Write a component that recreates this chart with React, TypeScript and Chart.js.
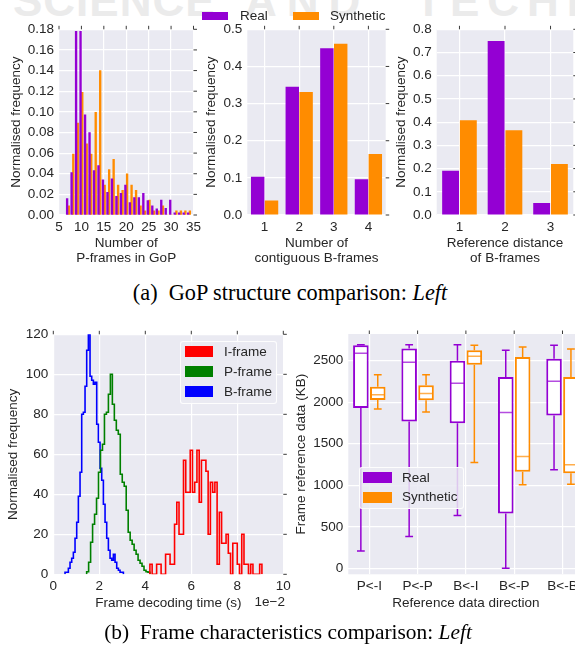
import React, { useEffect, useRef } from 'react';
import { Chart, registerables } from 'chart.js';

Chart.register(...registerables);

const SANS = "'Liberation Sans', Arial, Helvetica, sans-serif";
const SERIF = "'Liberation Serif', 'Times New Roman', Times, serif";
const INK = '#262626';
const PANEL_BG = '#EAEAF2';
const GRID = '#FFFFFF';
const REAL_COLOR = '#9400D3';
const SYN_COLOR = '#FF8C00';
const I_COLOR = '#FF0000';
const P_COLOR = '#008000';
const B_COLOR = '#0000FF';
const FS = 13.5;

// ---------- (a) left: number of P-frames in GoP ----------
const gopPFrames = [7, 8, 9, 10, 11, 12, 13, 14, 15, 16, 17, 18, 19, 20, 21, 22, 23, 24, 25, 26, 27, 28, 29, 30, 31, 32, 33, 34];
const gopReal = [0.016, 0.041, 0.178, 0.178, 0.097, 0.08, 0.043, 0.048, 0.034, 0.022, 0.035, 0.018, 0.021, 0.029, 0.012, 0.017, 0.017, 0.021, 0.014, 0.009, 0.006, 0.0145, 0.0065, 0.0145, 0.002, 0.002, 0.002, 0.002];
const gopSynthetic = [0.009, 0.059, 0.089, 0.119, 0.069, 0.059, 0.0995, 0.14, 0.029, 0.044, 0.054, 0.029, 0.024, 0.04, 0.029, 0.024, 0.009, 0.004, 0.0145, 0.004, 0.004, 0.009, 0, 0, 0.004, 0.004, 0.004, 0.004];
const gopXTicks = [5, 10, 15, 20, 25, 30, 35];
const gopYTicks = [0, 0.02, 0.04, 0.06, 0.08, 0.1, 0.12, 0.14, 0.16, 0.18];

// ---------- (a) middle: contiguous B-frames ----------
const contiguousB = ['1', '2', '3', '4'];
const contiguousReal = [0.103, 0.345, 0.449, 0.096];
const contiguousSynthetic = [0.039, 0.331, 0.461, 0.164];
const contiguousYTicks = [0, 0.1, 0.2, 0.3, 0.4, 0.5];

// ---------- (a) right: reference distance of B-frames ----------
const refDistance = ['1', '2', '3'];
const refDistReal = [0.191, 0.75, 0.052];
const refDistSynthetic = [0.408, 0.365, 0.22];
const refDistYTicks = [0, 0.1, 0.2, 0.3, 0.4, 0.5, 0.6, 0.7, 0.8];

// ---------- (b) left: frame decoding time histograms (x in 1e-2 s) ----------
const iFrameBinStart = 4.2;
const iFrameBinWidth = 0.0974;
const iFrameHist = [5, 0, 0, 5, 5, 0, 0, 10, 10, 5, 5, 25, 36, 20, 20, 57, 41, 41, 62, 41, 46, 62, 36, 57, 57, 51.5, 20, 46, 41, 46, 5, 31, 15.5, 15.5, 20, 10.5, 0, 15.5, 15.5, 5, 0, 20, 5, 5, 0, 5, 0, 0, 0, 5];
const pFrameBinStart = 1.45;
const pFrameBinWidth = 0.086;
const pFrameHist = [1.3, 6, 16, 25, 30, 38, 51, 62, 65, 80, 81, 90, 100, 85, 77, 72, 70, 50, 46, 44, 32, 21, 17, 15, 12, 10, 7, 5.5, 4, 2, 1.3, 1];
const bFrameBinStart = 0.51;
const bFrameBinWidth = 0.0725;
const bFrameHist = [1, 1, 3, 6, 8, 11, 18, 26, 39, 51, 80, 81, 94, 112, 120, 99, 97, 95, 96, 75, 66, 53, 47, 35, 26, 18, 12, 8, 7, 10, 6, 3, 2, 1, 1];
const decodeXTicks = [0, 2, 4, 6, 8, 10];
const decodeYTicks = [0, 20, 40, 60, 80, 100, 120];

// ---------- (b) right: frame reference data box plots ----------
const directions = ['P<-I', 'P<-P', 'B<-I', 'B<-P', 'B<-B'];
const directionPos = [0, 1, 2, 3, 4];
// [lower whisker, Q1, median, Q3, upper whisker] in KB
const realBox = [
  [209, 1929, 2588, 2685, 2693],
  [382, 1768, 2480, 2645, 2693],
  [635, 1748, 2227, 2500, 2693],
  [0, 659, 1877, 2303, 2625],
  [1186, 1841, 2251, 2524, 2685],
];
const syntheticBox = [
  [1917, 2026, 2090, 2187, 2331],
  [1881, 2022, 2106, 2203, 2331],
  [1274, 2452, 2552, 2625, 2685],
  [1005, 1162, 1346, 2544, 2665],
  [1013, 1146, 1246, 2303, 2641],
];
const refYTicks = [0, 500, 1000, 1500, 2000, 2500];

// ---------- helpers ----------
function stepPoints(start: number, width: number, counts: number[]) {
  const pts = [{ x: start, y: 0 }];
  counts.forEach((c, i) => pts.push({ x: start + i * width, y: c }));
  pts.push({ x: start + counts.length * width, y: 0 });
  return pts;
}

const tickFont = { family: SANS, size: FS };
const titleFont = { family: SANS, size: FS, lineHeight: 1.1 };

const bgPlugin = {
  id: 'panelBg',
  beforeDraw(chart: any) {
    const { ctx, chartArea: a } = chart;
    ctx.save();
    ctx.fillStyle = PANEL_BG;
    ctx.fillRect(a.left, a.top, a.right - a.left, a.bottom - a.top);
    ctx.restore();
  },
};

const outerTicksPlugin = {
  id: 'outerTicks',
  afterDraw(chart: any) {
    const { ctx, chartArea: a, scales } = chart;
    ctx.save();
    ctx.strokeStyle = '#3a3a3a';
    ctx.lineWidth = 1;
    ctx.beginPath();
    scales.y.ticks.forEach((t: any) => {
      const py = scales.y.getPixelForValue(t.value);
      ctx.moveTo(a.right, py);
      ctx.lineTo(a.right + 3.5, py);
    });
    scales.x.ticks.forEach((_t: any, i: number) => {
      const px = scales.x.getPixelForTick(i);
      ctx.moveTo(px, a.top);
      ctx.lineTo(px, a.top - 3.5);
    });
    ctx.stroke();
    ctx.restore();
  },
};

const boxWhiskerPlugin = {
  id: 'boxWhisker',
  afterDatasetsDraw(chart: any) {
    const { ctx, chartArea: a, scales } = chart;
    const y = scales.y;
    ctx.save();
    ctx.beginPath();
    ctx.rect(a.left, a.top, a.right - a.left, a.bottom - a.top);
    ctx.clip();
    chart.data.datasets.forEach((ds: any, d: number) => {
      const stats = d === 0 ? realBox : syntheticBox;
      const meta = chart.getDatasetMeta(d);
      meta.data.forEach((bar: any, i: number) => {
        const [lo, q1, med, q3, hi] = stats[i];
        const x = bar.x;
        const w = bar.width;
        const cap = w * 0.5;
        ctx.strokeStyle = ds.borderColor;
        ctx.lineWidth = 1.5;
        ctx.beginPath();
        ctx.moveTo(x, y.getPixelForValue(q3));
        ctx.lineTo(x, y.getPixelForValue(hi));
        ctx.moveTo(x, y.getPixelForValue(q1));
        ctx.lineTo(x, y.getPixelForValue(lo));
        ctx.moveTo(x - cap / 2, y.getPixelForValue(hi));
        ctx.lineTo(x + cap / 2, y.getPixelForValue(hi));
        ctx.moveTo(x - cap / 2, y.getPixelForValue(lo));
        ctx.lineTo(x + cap / 2, y.getPixelForValue(lo));
        ctx.stroke();
        ctx.globalAlpha = 0.7;
        ctx.beginPath();
        const ym = y.getPixelForValue(med);
        ctx.moveTo(x - w / 2 + 1, ym);
        ctx.lineTo(x + w / 2 - 1, ym);
        ctx.stroke();
        ctx.globalAlpha = 1;
      });
    });
    ctx.restore();
  },
};

function yAxis(o: { min: number; max: number; ticks: number[]; fmt: (v: number) => string; width: number; title: string; titlePad: number }) {
  return {
    type: 'linear',
    min: o.min,
    max: o.max,
    afterFit: (s: any) => { s.width = o.width; },
    afterBuildTicks: (s: any) => { s.ticks = o.ticks.map((v) => ({ value: v })); },
    grid: { color: GRID, lineWidth: 1.2, drawTicks: false },
    border: { display: false },
    ticks: { color: INK, font: tickFont, padding: 5, callback: (v: any) => o.fmt(Number(v)) },
    title: { display: true, text: o.title, color: INK, font: titleFont, padding: { top: o.titlePad, bottom: 0 } },
  };
}

function xAxis(o: any) {
  const common: any = {
    afterFit: (s: any) => { s.height = o.height; },
    border: { display: false },
    title: { display: true, text: o.title, color: INK, font: titleFont, padding: { top: 0, bottom: o.titlePad } },
  };
  if (o.type === 'category') {
    return {
      ...common,
      type: 'category',
      offset: true,
      grid: { color: GRID, lineWidth: 1.2, drawTicks: false, offset: false },
      ticks: { color: INK, font: tickFont, padding: 4, autoSkip: false, maxRotation: 0 },
    };
  }
  return {
    ...common,
    type: 'linear',
    min: o.min,
    max: o.max,
    offset: false,
    afterBuildTicks: (s: any) => { s.ticks = o.ticks.map((v: number) => ({ value: v })); },
    grid: { color: GRID, lineWidth: 1.2, drawTicks: false, offset: false },
    ticks: { color: INK, font: tickFont, padding: 4, autoSkip: false, maxRotation: 0, callback: (v: any) => o.fmt(Number(v)) },
  };
}

function baseOptions(padTop: number, padRight: number, x: any, y: any) {
  return {
    responsive: false,
    animation: false,
    events: [],
    layout: { padding: { left: 0, top: padTop, right: padRight, bottom: 0 } },
    plugins: { legend: { display: false }, tooltip: { enabled: false } },
    scales: { x, y },
  };
}

const gopConfig = () => ({
  type: 'bar',
  data: {
    datasets: [
      { label: 'Real', data: gopPFrames.map((n, i) => ({ x: n, y: gopReal[i] })), backgroundColor: REAL_COLOR, barThickness: 1.7, borderWidth: 0 },
      { label: 'Synthetic', data: gopPFrames.map((n, i) => ({ x: n, y: gopSynthetic[i] })), backgroundColor: SYN_COLOR, barThickness: 1.7, borderWidth: 0 },
    ],
  },
  options: baseOptions(29.3, 8,
    xAxis({ type: 'linear', min: 5, max: 35, ticks: gopXTicks, fmt: (v: number) => String(v), height: 55, title: ['Number of', 'P-frames in GoP'], titlePad: 4 }),
    yAxis({ min: 0, max: 0.18, ticks: gopYTicks, fmt: (v) => v.toFixed(2), width: 59, title: 'Normalised frequency', titlePad: 9 })),
  plugins: [bgPlugin, outerTicksPlugin],
});

const contiguousConfig = () => ({
  type: 'bar',
  data: {
    labels: contiguousB,
    datasets: [
      { label: 'Real', data: contiguousReal, backgroundColor: REAL_COLOR, categoryPercentage: 0.8, barPercentage: 0.97, borderWidth: 0 },
      { label: 'Synthetic', data: contiguousSynthetic, backgroundColor: SYN_COLOR, categoryPercentage: 0.8, barPercentage: 0.97, borderWidth: 0 },
    ],
  },
  options: baseOptions(29.3, 4.3,
    xAxis({ type: 'category', height: 55, title: ['Number of', 'contiguous B-frames'], titlePad: 4 }),
    yAxis({ min: 0, max: 0.5, ticks: contiguousYTicks, fmt: (v) => v.toFixed(1), width: 52.3, title: 'Normalised frequency', titlePad: 9 })),
  plugins: [bgPlugin, outerTicksPlugin],
});

const refDistConfig = () => ({
  type: 'bar',
  data: {
    labels: refDistance,
    datasets: [
      { label: 'Real', data: refDistReal, backgroundColor: REAL_COLOR, categoryPercentage: 0.78, barPercentage: 0.95, borderWidth: 0 },
      { label: 'Synthetic', data: refDistSynthetic, backgroundColor: SYN_COLOR, categoryPercentage: 0.78, barPercentage: 0.95, borderWidth: 0 },
    ],
  },
  options: baseOptions(29.3, 1.7,
    xAxis({ type: 'category', height: 55, title: ['Reference distance', 'of B-frames'], titlePad: 4 }),
    yAxis({ min: 0, max: 0.8, ticks: refDistYTicks, fmt: (v) => v.toFixed(1), width: 51.7, title: 'Normalised frequency', titlePad: 9 })),
  plugins: [bgPlugin, outerTicksPlugin],
});

const decodeConfig = () => ({
  type: 'line',
  data: {
    datasets: [
      { label: 'I-frame', data: stepPoints(iFrameBinStart, iFrameBinWidth, iFrameHist), borderColor: I_COLOR, borderWidth: 1.6, stepped: true, pointRadius: 0, fill: false },
      { label: 'P-frame', data: stepPoints(pFrameBinStart, pFrameBinWidth, pFrameHist), borderColor: P_COLOR, borderWidth: 1.6, stepped: true, pointRadius: 0, fill: false },
      { label: 'B-frame', data: stepPoints(bFrameBinStart, bFrameBinWidth, bFrameHist), borderColor: B_COLOR, borderWidth: 1.6, stepped: true, pointRadius: 0, fill: false },
    ],
  },
  options: baseOptions(14.3, 16.7,
    xAxis({ type: 'linear', min: 0, max: 10, ticks: decodeXTicks, fmt: (v: number) => String(v), height: 40.7, title: 'Frame decoding time (s)', titlePad: 4 }),
    yAxis({ min: 0, max: 120, ticks: decodeYTicks, fmt: (v) => String(v), width: 53.3, title: 'Normalised frequency', titlePad: 6 })),
  plugins: [bgPlugin, outerTicksPlugin],
});

const refDataConfig = () => ({
  type: 'bar',
  data: {
    datasets: [
      { label: 'Real', data: directionPos.map((p, i) => ({ x: p, y: [realBox[i][1], realBox[i][3]] })), backgroundColor: '#FFFFFF', borderColor: REAL_COLOR, borderWidth: 2, borderSkipped: false, categoryPercentage: 0.7, barPercentage: 0.92 },
      { label: 'Synthetic', data: directionPos.map((p, i) => ({ x: p, y: [syntheticBox[i][1], syntheticBox[i][3]] })), backgroundColor: '#FFFFFF', borderColor: SYN_COLOR, borderWidth: 2, borderSkipped: false, categoryPercentage: 0.7, barPercentage: 0.92 },
    ],
  },
  options: baseOptions(14, 6.5,
    xAxis({ type: 'linear', min: -0.435, max: 4.435, ticks: directionPos, fmt: (v: number) => directions[v] ?? '', height: 40.7, title: 'Reference data direction', titlePad: 4 }),
    yAxis({ min: -72, max: 2821, ticks: refYTicks, fmt: (v) => String(v), width: 63.3, title: 'Frame reference data (KB)', titlePad: 9 })),
  plugins: [bgPlugin, outerTicksPlugin, boxWhiskerPlugin],
});

function ChartPanel({ left, top, width, height, make }: { left: number; top: number; width: number; height: number; make: () => any }) {
  const ref = useRef<HTMLCanvasElement | null>(null);
  useEffect(() => {
    if (!ref.current) return;
    const chart = new Chart(ref.current, make());
    return () => chart.destroy();
  }, []);
  return (
    <canvas
      ref={ref}
      width={width}
      height={height}
      style={{ position: 'absolute', left, top, width, height }}
    />
  );
}

function Text({ x, y, children, size = FS, family = SANS, color = INK, align = 'left', style = {} }: any) {
  const lh = size * 1.2;
  const tx = align === 'left' ? '0' : align === 'right' ? '-100%' : '-50%';
  return (
    <div
      style={{
        position: 'absolute',
        left: x,
        top: y - lh / 2,
        fontFamily: family,
        fontSize: size,
        lineHeight: `${lh}px`,
        color,
        whiteSpace: 'nowrap',
        transform: `translateX(${tx})`,
        ...style,
      }}
    >
      {children}
    </div>
  );
}

function Patch({ x, y, w, h, color }: any) {
  return <div style={{ position: 'absolute', left: x, top: y - h / 2, width: w, height: h, background: color }} />;
}

function LegendBox({ x, y, w, h }: any) {
  return (
    <div
      style={{
        position: 'absolute', left: x, top: y, width: w, height: h, boxSizing: 'border-box',
        background: 'rgba(234,234,242,0.85)', border: '1px solid rgba(255,255,255,0.9)', borderRadius: 3,
      }}
    />
  );
}

export default function App() {
  const wm = { position: 'absolute' as const, top: -21, fontFamily: SANS, fontWeight: 700, fontSize: 44, lineHeight: '44px', color: '#ebebeb', whiteSpace: 'nowrap' as const };
  return (
    <div style={{ position: 'fixed', left: 0, top: 0, width: 575, height: 650, overflow: 'hidden', background: '#ffffff' }}>
      <div style={{ ...wm, left: 13, letterSpacing: 1 }}>SCIENCE</div>
      <div style={{ ...wm, left: 245, letterSpacing: 10 }}>AND</div>
      <div style={{ ...wm, left: 415, letterSpacing: 8 }}>TECHN</div>

      <ChartPanel left={0} top={0} width={205} height={270} make={gopConfig} />
      <ChartPanel left={195} top={0} width={195} height={270} make={contiguousConfig} />
      <ChartPanel left={385} top={0} width={190} height={270} make={refDistConfig} />
      <ChartPanel left={0} top={320} width={300} height={295} make={decodeConfig} />
      <ChartPanel left={285} top={320} width={305} height={295} make={refDataConfig} />

      {/* legend (a) */}
      <Patch x={202} y={16} w={25.5} h={8.5} color={REAL_COLOR} />
      <Text x={240} y={16}>Real</Text>
      <Patch x={293} y={16} w={25.5} h={8.5} color={SYN_COLOR} />
      <Text x={330} y={16}>Synthetic</Text>

      {/* legend (b) left */}
      <LegendBox x={180} y={341} w={97} h={63} />
      <Patch x={185} y={351.7} w={28} h={11} color={I_COLOR} />
      <Text x={224} y={351.7}>I-frame</Text>
      <Patch x={185} y={371.7} w={28} h={11} color={P_COLOR} />
      <Text x={224} y={371.7}>P-frame</Text>
      <Patch x={185} y={391.7} w={28} h={11} color={B_COLOR} />
      <Text x={224} y={391.7}>B-frame</Text>
      <Text x={285} y={602} align="right">1e−2</Text>

      {/* legend (b) right */}
      <LegendBox x={359} y={467} w={105} h={42} />
      <Patch x={363.3} y={477.7} w={28.5} h={11} color={REAL_COLOR} />
      <Text x={402} y={477.7}>Real</Text>
      <Patch x={363.3} y={497.3} w={28.5} h={11} color={SYN_COLOR} />
      <Text x={402} y={497.3}>Synthetic</Text>

      {/* captions */}
      <Text x={290} y={293} size={22.3} family={SERIF} color="#000" align="center">
        (a)&nbsp;&nbsp;GoP structure comparison: <i>Left</i>
      </Text>
      <Text x={288} y={633} size={21.4} family={SERIF} color="#000" align="center">
        (b)&nbsp;&nbsp;Frame characteristics comparison: <i>Left</i>
      </Text>
    </div>
  );
}
